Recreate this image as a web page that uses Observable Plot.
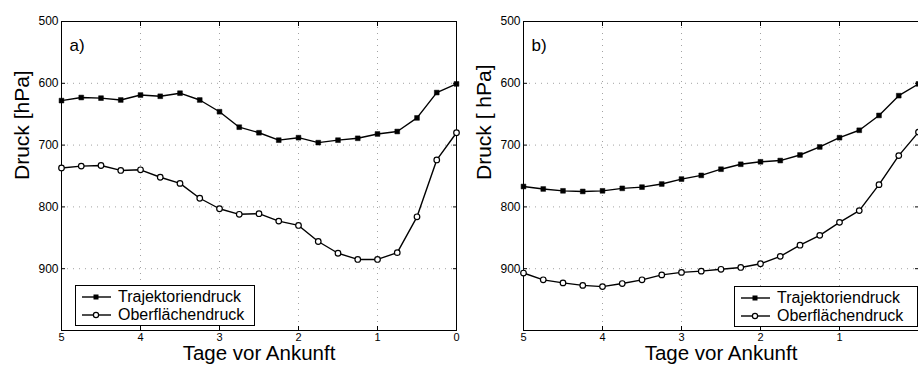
<!DOCTYPE html>
<html>
<head>
<meta charset="utf-8">
<script src="https://cdn.jsdelivr.net/npm/d3@7"></script>
<script src="https://cdn.jsdelivr.net/npm/@observablehq/plot@0.6"></script>
<style>
  body { margin: 0; background: #fff; font-family: "Liberation Sans", Arial, sans-serif; }
  #wrap { position: relative; width: 918px; height: 368px; display: flex; overflow: hidden; }
  .legend { position: absolute; background: #fff; border: 1px solid #000; font-size: 16px; line-height: 18px; padding: 2px 4px 1px 6px; box-sizing: border-box; }
  .legend .row { display: flex; align-items: center; height: 18px; white-space: nowrap; }
  .legend svg { margin-right: 7px; }
</style>
</head>
<body>
<div id="wrap"></div>
<script>
// ---- data ----
const days = [5, 4.75, 4.5, 4.25, 4, 3.75, 3.5, 3.25, 3, 2.75, 2.5, 2.25, 2, 1.75, 1.5, 1.25, 1, 0.75, 0.5, 0.25, 0];
const leftTraj  = [628, 623, 624, 627, 619, 621, 616, 627, 646, 671, 680, 692, 688, 696, 692, 689, 682, 678, 656, 615, 601];
const leftOber  = [737, 734, 733, 741, 740, 752, 762, 786, 803, 812, 811, 823, 830, 856, 875, 885, 885, 874, 816, 724, 680];
const rightTraj = [767, 771, 774, 775, 774, 770, 768, 763, 755, 749, 739, 731, 727, 725, 716, 703, 688, 676, 652, 620, 601];
const rightOber = [907, 918, 923, 927, 929, 924, 918, 910, 906, 904, 901, 898, 892, 880, 862, 846, 825, 806, 764, 717, 679];
const seriesNames = ["Trajektoriendruck", "Oberflächendruck"];
const xTicks = [5, 4, 3, 2, 1, 0];
const yTicks = [500, 600, 700, 800, 900];
const xLabel = "Tage vor Ankunft";
const panels = [
  {tag: "a)", yLabel: "Druck [hPa]", traj: leftTraj, ober: leftOber, xTickLabels: [5, 4, 3, 2, 1, 0]},
  {tag: "b)", yLabel: "Druck [ hPa]", traj: rightTraj, ober: rightOber, xTickLabels: [5, 4, 3, 2, 1]}
];

const layouts = [
  {marginLeft: 61, marginRight: 3, legend: {left: 75, top: 285, width: 180, height: 41}},
  {marginLeft: 64, marginRight: 0, legend: {left: 734, top: 286, width: 184, height: 41}}
];

const wrap = document.getElementById("wrap");
const font = "'Liberation Sans', Arial, sans-serif";

panels.forEach((p, i) => {
  const L = layouts[i];
  const traj = days.map((d, j) => ({x: d, y: p.traj[j]}));
  const ober = days.map((d, j) => ({x: d, y: p.ober[j]}));
  const grid = {stroke: "#666", strokeOpacity: 0.6, strokeDasharray: "1,5"};
  const chart = Plot.plot({
    width: 459, height: 368,
    marginLeft: L.marginLeft, marginRight: L.marginRight, marginTop: 21, marginBottom: 38,
    style: {fontFamily: font, background: "transparent", overflow: "visible"},
    x: {domain: [5, 0], axis: null},
    y: {domain: [500, 1000], reverse: true, axis: null},
    marks: [
      Plot.gridX(xTicks.slice(1, -1), grid),
      Plot.gridY(yTicks.slice(1), grid),
      Plot.axisX(p.xTickLabels, {anchor: "bottom", tickSize: 0, tickPadding: 3, fontSize: 11, label: null, fill: "#000"}),
      Plot.axisX(xTicks, {anchor: "bottom", tickSize: -4, tickFormat: () => "", label: null, stroke: "#000"}),
      Plot.axisX(xTicks, {anchor: "top", tickSize: -4, tickFormat: () => "", label: null, stroke: "#000"}),
      Plot.axisY(yTicks, {anchor: "left", tickSize: 0, tickPadding: 3, fontSize: 12, label: null, fill: "#000"}),
      Plot.axisY(yTicks, {anchor: "left", tickSize: -4, tickFormat: () => "", label: null, stroke: "#000"}),
      Plot.axisY(yTicks, {anchor: "right", tickSize: -4, tickFormat: () => "", label: null, stroke: "#000"}),
      Plot.frame({stroke: "#000", strokeWidth: 1}),
      Plot.line(traj, {x: "x", y: "y", stroke: "#000", strokeWidth: 1.4}),
      Plot.line(ober, {x: "x", y: "y", stroke: "#000", strokeWidth: 1.4}),
      Plot.dot(traj, {x: "x", y: "y", symbol: "square", r: 2.7, fill: "#000", stroke: "#000", strokeWidth: 0.5}),
      Plot.dot(ober, {x: "x", y: "y", symbol: "circle", r: 2.8, fill: "#fff", stroke: "#000", strokeWidth: 1.2}),
      Plot.text([p.tag], {text: d => d, frameAnchor: "top-left", textAnchor: "start", dx: 8, dy: 17, fontSize: 17, fill: "#000"}),
      Plot.text([p.yLabel], {text: d => d, frameAnchor: "left", rotate: -90, dx: -39, dy: 4, fontSize: 21, fill: "#000"}),
      Plot.text([xLabel], {text: d => d, frameAnchor: "bottom", dy: 29.5, fontSize: 20.5, fill: "#000"})
    ]
  });
  wrap.appendChild(chart);

  // legend
  const lg = document.createElement("div");
  lg.className = "legend";
  Object.assign(lg.style, {left: L.legend.left + "px", top: L.legend.top + "px", width: L.legend.width + "px", height: L.legend.height + "px"});
  seriesNames.forEach((name, k) => {
    const row = document.createElement("div");
    row.className = "row";
    const marker = k === 0
      ? `<rect x="11.5" y="6.5" width="5" height="5" fill="#000"/>`
      : `<circle cx="14" cy="9" r="2.6" fill="#fff" stroke="#000" stroke-width="1.2"/>`;
    row.innerHTML = `<svg width="29" height="18"><line x1="0" x2="29" y1="9" y2="9" stroke="#000" stroke-width="1.4"/>${marker}</svg><span>${name}</span>`;
    lg.appendChild(row);
  });
  wrap.appendChild(lg);
});
</script>
</body>
</html>
